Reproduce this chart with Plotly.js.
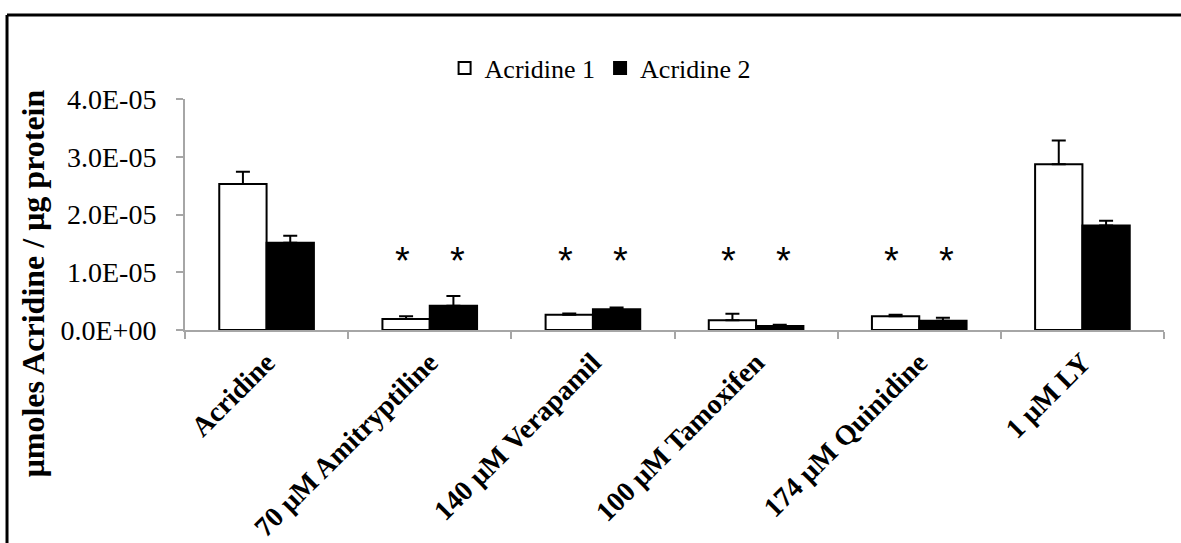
<!DOCTYPE html>
<html>
<head>
<meta charset="utf-8">
<script src="https://cdn.plot.ly/plotly-3.0.1.min.js"></script>
<style>
  html, body { margin: 0; padding: 0; background: #fff; }
  #chart { width: 1181px; height: 543px; }
</style>
</head>
<body>
<div id="chart"></div>
<script>
// ---- data ----
const categories = ['Acridine', '70 μM Amitryptiline', '140 μM Verapamil', '100 μM Tamoxifen', '174 μM Quinidine', '1 μM LY'];
const acridine1 = [2.53e-5, 0.19e-5, 0.265e-5, 0.17e-5, 0.24e-5, 2.87e-5];
const acridine1Err = [0.21e-5, 0.05e-5, 0.02e-5, 0.11e-5, 0.025e-5, 0.41e-5];
const acridine2 = [1.51e-5, 0.42e-5, 0.36e-5, 0.07e-5, 0.16e-5, 1.81e-5];
const acridine2Err = [0.12e-5, 0.17e-5, 0.03e-5, 0.02e-5, 0.05e-5, 0.08e-5];
const sig1 = [false, true, true, true, true, false];
const sig2 = [false, true, true, true, true, false];
const yTickVals = [0, 1e-5, 2e-5, 3e-5, 4e-5];
const yTickLabels = ['0.0E+00', '1.0E-05', '2.0E-05', '3.0E-05', '4.0E-05'];
const seriesNames = ['Acridine 1', 'Acridine 2'];
const yTitle = 'μmoles Acridine / μg protein';

// ---- chart ----
const serif = 'Liberation Serif';
const zeros = categories.map(() => 0);

const traces = [
  {
    type: 'bar', name: seriesNames[0], x: categories, y: acridine1,
    marker: { color: '#ffffff', line: { color: '#000000', width: 2 } },
    error_y: { type: 'data', symmetric: false, array: acridine1Err, arrayminus: zeros,
               color: '#000000', thickness: 2, width: 7 }
  },
  {
    type: 'bar', name: seriesNames[1], x: categories, y: acridine2,
    marker: { color: '#000000', line: { color: '#000000', width: 2 } },
    error_y: { type: 'data', symmetric: false, array: acridine2Err, arrayminus: zeros,
               color: '#000000', thickness: 2, width: 7 }
  }
];

const starY = 1.2e-5;
const starOffset = 0.17;
const starFont = { family: 'Liberation Sans', size: 38, color: '#000' };
const annotations = [];
categories.forEach((c, i) => {
  if (sig1[i]) annotations.push({ x: i - starOffset, y: starY, xref: 'x', yref: 'y', text: '*', showarrow: false,
    font: starFont, yanchor: 'middle' });
  if (sig2[i]) annotations.push({ x: i + starOffset, y: starY, xref: 'x', yref: 'y', text: '*', showarrow: false,
    font: starFont, yanchor: 'middle' });
});
annotations.push({
  text: yTitle, textangle: -90, xref: 'paper', yref: 'paper', x: -0.155, y: 0.203,
  xanchor: 'center', yanchor: 'middle', showarrow: false,
  font: { family: serif, size: 32, color: '#000', weight: 'bold' }
});

const layout = {
  width: 1181, height: 543,
  margin: { l: 185, r: 17, t: 99, b: 213 },
  paper_bgcolor: '#ffffff', plot_bgcolor: '#ffffff',
  font: { family: serif, color: '#000' },
  barmode: 'group', bargap: 0.42, bargroupgap: 0,
  showlegend: true,
  legend: { orientation: 'h', x: 0.424, xanchor: 'center', y: 1.134, yanchor: 'middle',
            font: { family: serif, size: 26, color: '#000' }, itemclick: false },
  xaxis: {
    type: 'category', range: [-0.5, 5.5], tickson: 'boundaries',
    ticks: 'outside', ticklen: 7, tickwidth: 2, tickcolor: '#a6a6a6',
    showline: true, linecolor: '#a6a6a6', linewidth: 2,
    showgrid: false, zeroline: false, tickangle: -45, ticklabelstandoff: 3,
    tickfont: { family: serif, size: 28, color: '#000', weight: 'bold' }
  },
  yaxis: {
    range: [0, 4e-5], tickvals: yTickVals, ticktext: yTickLabels,
    ticks: 'outside', ticklen: 7, tickwidth: 2, tickcolor: '#a6a6a6',
    showline: true, linecolor: '#a6a6a6', linewidth: 2,
    showgrid: false, zeroline: false, ticklabelstandoff: 14,
    tickfont: { family: serif, size: 28, color: '#000' }
  },
  annotations: annotations,
  shapes: [
    { type: 'line', xref: 'paper', yref: 'paper', x0: -0.1818, x1: 1.2, y0: 1.3636, y1: 1.3636,
      line: { color: '#000', width: 3 } },
    { type: 'line', xref: 'paper', yref: 'paper', x0: -0.1818, x1: -0.1818, y0: 1.3636, y1: -1.2,
      line: { color: '#000', width: 3 } }
  ]
};

Plotly.newPlot('chart', traces, layout, { displayModeBar: false, staticPlot: true });
</script>
</body>
</html>
